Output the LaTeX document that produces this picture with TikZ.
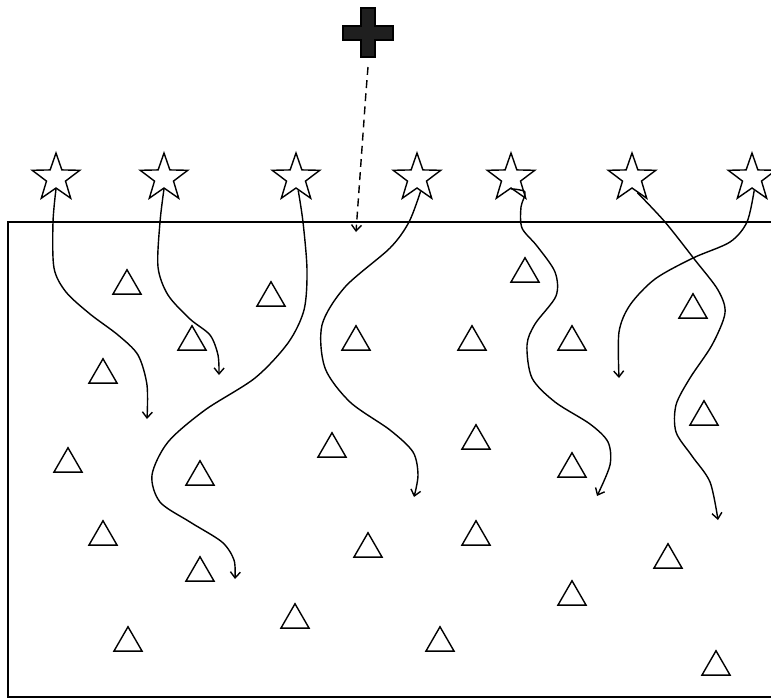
\documentclass[tikz,border=0pt]{standalone}
\usepackage{tikz}
\usetikzlibrary{arrows.meta,positioning,shapes.geometric}

\tikzset{
  pin/.style={star,star points=5,star point ratio=2.5,draw,line width=0.8pt,
    minimum size=1cm,inner sep=0pt},
  cone/.style={regular polygon,regular polygon sides=3,draw,line width=0.8pt,
    minimum size=0.65cm,inner sep=0pt},
  walk/.style={line width=0.8pt,-{Straight Barb[length=1.2mm,width=2mm]}},
}

\begin{document}
\begin{tikzpicture}[x=0.02cm,y=-0.02cm]
  \fill[white] (0,0) rectangle (771,698);
  \useasboundingbox (0,0) rectangle (771,698);
  \draw[line width=0.8pt] (790,222) -- (8,222) -- (8,697) -- (790,697);

  \node[pin] (s1) at (56,178) {};
  \node[pin] (s2) at (164,178) {};
  \node[pin] (s3) at (296,178) {};
  \node[pin] (s4) at (417,178) {};
  \node[pin] (s5) at (511,178) {};
  \node[pin] (s6) at (632,178) {};
  \node[pin] (s7) at (752,178) {};

  \node[cone] (t1) at (127,286) {};
  \node[cone] (t2) at (271,298) {};
  \node[cone] (t3) at (192,342) {};
  \node[cone] (t4) at (356,342) {};
  \node[cone] (t5) at (472,342) {};
  \node[cone] (t6) at (572,342) {};
  \node[cone] (t7) at (525,274) {};
  \node[cone] (t8) at (693,310) {};
  \node[cone] (t9) at (103,375) {};
  \node[cone] (t10) at (704,417) {};
  \node[cone] (t11) at (68,464) {};
  \node[cone] (t12) at (200,477) {};
  \node[cone] (t13) at (332,449) {};
  \node[cone] (t14) at (476,441) {};
  \node[cone] (t15) at (572,469) {};
  \node[cone] (t16) at (103,537) {};
  \node[cone] (t17) at (368,549) {};
  \node[cone] (t18) at (476,537) {};
  \node[cone] (t19) at (668,560) {};
  \node[cone] (t20) at (200,573) {};
  \node[cone] (t21) at (572,597) {};
  \node[cone] (t22) at (295,620) {};
  \node[cone] (t23) at (128,643) {};
  \node[cone] (t24) at (440,643) {};
  \node[cone] (t25) at (716,667) {};

  \filldraw[fill=black!88,line width=0.6pt] (343,26) -- (361,26) -- (361,8) -- (375,8)
    -- (375,26) -- (393,26) -- (393,40) -- (375,40) -- (375,57) -- (361,57)
    -- (361,40) -- (343,40) -- cycle;
  \coordinate (plus) at (368,67);
  \coordinate (ed) at (356,232);
  \draw[walk,dash pattern=on 4.5pt off 3pt] (plus) -- (366,92) -- (ed);

  \coordinate (e1) at (147,419);
  \coordinate (e2) at (219,375);
  \coordinate (e3) at (235,579);
  \coordinate (e4) at (414,497);
  \coordinate (e5) at (597,496);
  \coordinate (e6) at (718,520);
  \coordinate (e7) at (619,378);

  \draw[walk] plot[smooth] coordinates {(s1.south) (53,222) (54,268) (66,292)
    (90,314) (118,335) (138,355) (147,385) (e1)};
  \draw[walk] plot[smooth] coordinates {(s2.south) (160,222) (158,267) (168,295)
    (190,319) (210,335) (218,355) (e2)};
  \draw[walk] plot[smooth] coordinates {(s3.-80) (303,222) (307,270) (304,310)
    (288,343) (255,378) (205,410) (168,442) (152,475) (160,502)
    (190,522) (222,542) (234,560) (e3)};
  \draw[walk] plot[smooth] coordinates {(s4.-75) (409,222) (390,248)
    (345,287) (322,325) (325,368) (350,402) (390,430)
    (413,452) (418,475) (e4)};
  \draw[walk] plot[smooth] coordinates {(s5.south) (525,192) (521,207) (522,228)
    (537,246) (555,272) (556,296) (535,324) (527,345)
    (532,378) (555,402) (590,424) (608,442) (610,465) (e5)};
  \draw[walk] plot[smooth] coordinates {(s6.-70) (665,222) (695,260) (718,290)
    (725,313) (712,345) (690,378) (676,405) (676,432) (692,456)
    (710,482) (e6)};
  \draw[walk] plot[smooth] coordinates {(s7.-80) (747,222) (730,242) (693,258)
    (655,279) (630,305) (619,332) (e7)};
\end{tikzpicture}
\end{document}
